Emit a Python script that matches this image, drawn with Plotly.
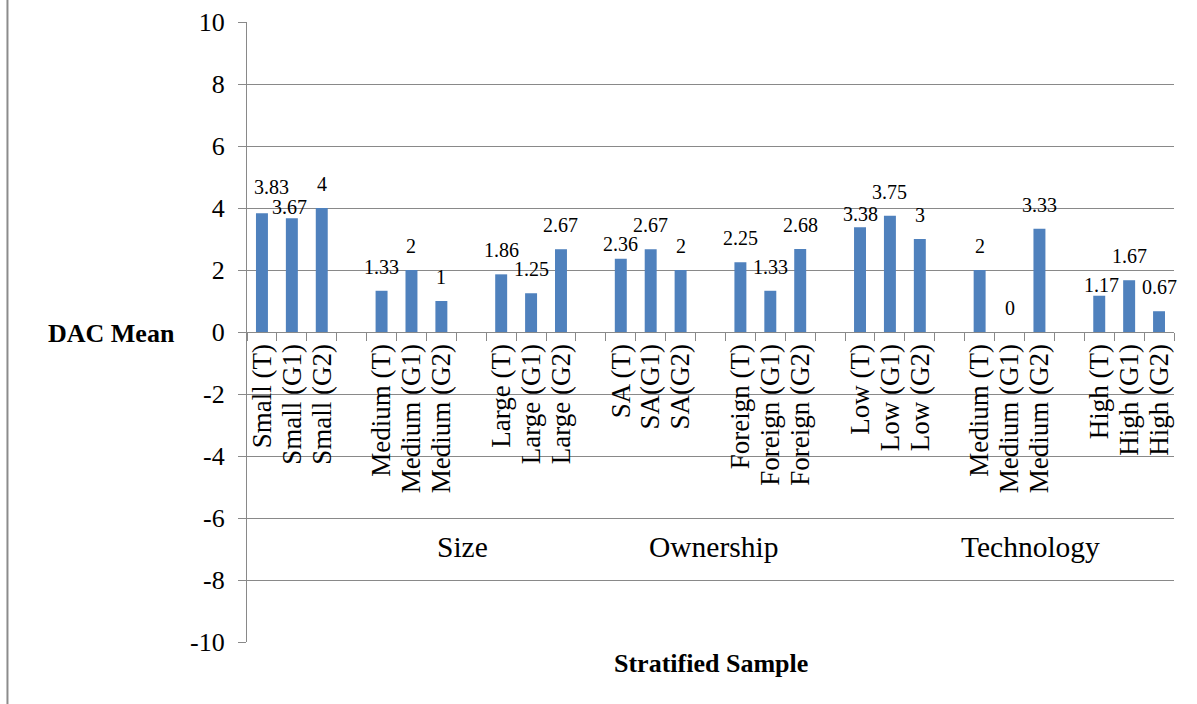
import plotly.graph_objects as go

# Stratified sample categories; empty strings separate the groups on the axis
categories = [
    "Small (T)", "Small (G1)", "Small (G2)", "",
    "Medium (T)", "Medium (G1)", "Medium (G2)", "",
    "Large (T)", "Large (G1)", "Large (G2)", "",
    "SA (T)", "SA(G1)", "SA(G2)", "",
    "Foreign (T)", "Foreign (G1)", "Foreign (G2)", "",
    "Low (T)", "Low (G1)", "Low (G2)", "",
    "Medium (T)", "Medium (G1)", "Medium (G2)", "",
    "High (T)", "High (G1)", "High (G2)",
]
dac_mean = [
    3.83, 3.67, 4, None,
    1.33, 2, 1, None,
    1.86, 1.25, 2.67, None,
    2.36, 2.67, 2, None,
    2.25, 1.33, 2.68, None,
    3.38, 3.75, 3, None,
    2, 0, 3.33, None,
    1.17, 1.67, 0.67,
]
group_labels = ["Size", "Ownership", "Technology"]
y_ticks = [-10, -8, -6, -4, -2, 0, 2, 4, 6, 8, 10]

FONT = "Liberation Serif, Times New Roman, serif"
GRID = "#898989"
BLUE = "#4F81BD"

# Value labels sit above each bar; a few are nudged (px) where they crowd a neighbour
LABEL_GAP = 11
label_nudge = {0: (10, 13), 1: (-2, -2), 12: (0, 2), 20: (0, 0), 28: (2, -2)}

positions = list(range(len(categories)))
bar_x = [p for p, v in zip(positions, dac_mean) if v is not None]
bar_y = [v for v in dac_mean if v is not None]

fig = go.Figure()
fig.add_trace(go.Bar(
    x=bar_x,
    y=bar_y,
    width=0.4,
    marker=dict(color=BLUE, line=dict(width=0)),
    hoverinfo="y",
))

for p, v in zip(bar_x, bar_y):
    dx, gap = label_nudge.get(p, (0, LABEL_GAP))
    fig.add_annotation(x=p, y=v, xref="x", yref="y",
                       text=f"{v:g}", showarrow=False,
                       xanchor="center", yanchor="bottom",
                       xshift=dx, yshift=gap,
                       font=dict(family=FONT, size=20, color="black"))

fig.update_layout(
    width=1197,
    height=704,
    margin=dict(l=247, r=23, t=22, b=62),
    paper_bgcolor="white",
    plot_bgcolor="white",
    showlegend=False,
    font=dict(family=FONT, color="black"),
)

fig.update_yaxes(
    range=[-10, 10],
    tickmode="array",
    tickvals=y_ticks,
    ticktext=[str(t) for t in y_ticks],
    showgrid=True,
    gridcolor=GRID,
    gridwidth=1.3,
    zeroline=False,
    showline=True,
    linecolor=GRID,
    linewidth=1.3,
    ticks="outside",
    ticklen=8,
    tickcolor=GRID,
    tickwidth=1.3,
    ticklabelstandoff=8,
    automargin=False,
    tickfont=dict(family=FONT, size=26, color="black"),
)

fig.update_xaxes(
    range=[-0.5, len(categories) - 0.5],
    anchor="free",
    position=0.5,
    showgrid=False,
    zeroline=False,
    showline=True,
    linecolor=GRID,
    linewidth=1.3,
    tickmode="array",
    tickvals=[p for p, c in zip(positions, categories) if c],
    ticktext=[c for c in categories if c],
    tickangle=-90,
    ticks="",
    ticklabelstandoff=0,
    automargin=False,
    tickfont=dict(family=FONT, size=27, color="black"),
    minor=dict(ticks="outside", tick0=0.5, dtick=1, ticklen=8,
               tickcolor=GRID, tickwidth=1.3, showgrid=False),
)

# Second-level group captions below the category labels
for text, xp in zip(group_labels, [0.2322, 0.5030, 0.8451]):
    fig.add_annotation(x=xp, y=0.1535, xref="paper", yref="paper",
                       xanchor="center", yanchor="middle",
                       text=text, showarrow=False,
                       font=dict(family=FONT, size=29.5, color="black"))

# Axis titles
fig.add_annotation(x=0.5003, y=-0.0339, xref="paper", yref="paper",
                   xanchor="center", yanchor="middle",
                   text="<b>Stratified Sample</b>", showarrow=False,
                   font=dict(family=FONT, size=26, color="black"))
fig.add_annotation(x=-0.1460, y=0.497, xref="paper", yref="paper",
                   xanchor="center", yanchor="middle",
                   text="<b>DAC Mean</b>", showarrow=False,
                   font=dict(family=FONT, size=26, color="black"))

# Outer frame edge on the left
fig.add_shape(type="line", xref="paper", yref="paper",
              x0=-0.2584, x1=-0.2584, y0=-0.11, y1=1.05,
              line=dict(color="#8c8c8c", width=2))

fig.write_html("out.html")
